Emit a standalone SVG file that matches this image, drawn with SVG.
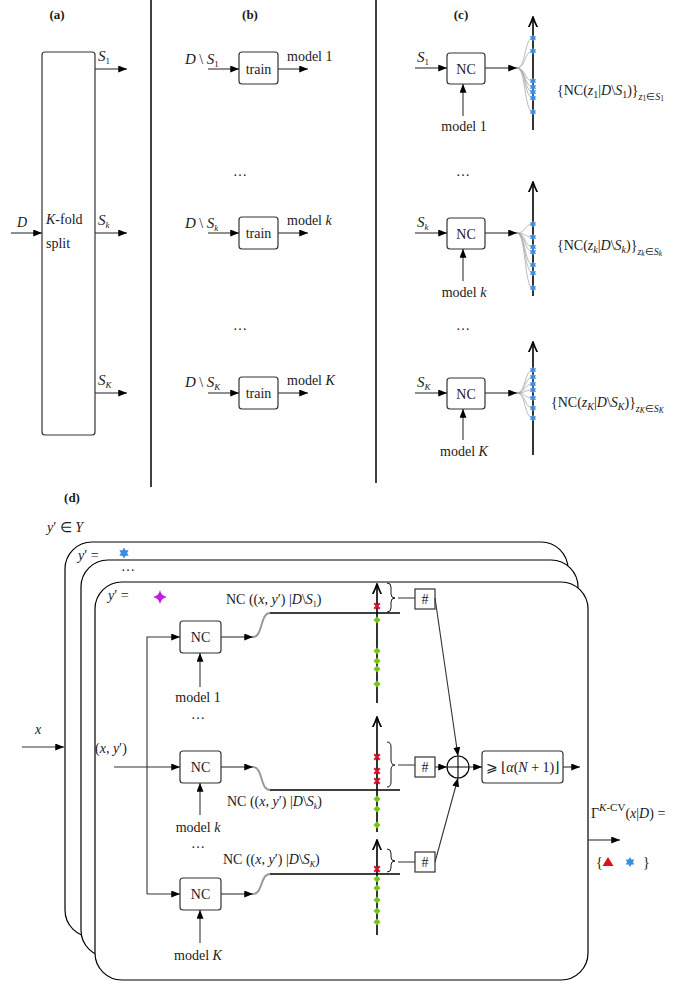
<svg xmlns="http://www.w3.org/2000/svg" width="691" height="985" viewBox="0 0 691 985">
<style>
text{font-family:"Liberation Serif","Times New Roman",serif;font-size:14px;fill:#1a1a1a}
.i{font-style:italic}
.b{font-weight:bold;font-size:13px}
.sub{font-size:9px}
.box{fill:#fff;stroke:#333;stroke-width:1.2}
.ln{fill:none;stroke:#333;stroke-width:1.1}
.ax{fill:none;stroke:#000;stroke-width:1.6}
.fan{fill:none;stroke:#aaa;stroke-width:0.8}
.sc{fill:none;stroke:#999;stroke-width:2}
.fr{fill:#fff;stroke:#000;stroke-width:1.2}
.dv{fill:none;stroke:#000;stroke-width:1.5}
.br{fill:none;stroke:#000;stroke-width:0.9}
</style>
<defs>
<marker id="a" markerUnits="userSpaceOnUse" viewBox="0 0 10 8" refX="10" refY="4" markerWidth="9" markerHeight="7" orient="auto"><path d="M0,0 L10,4 L0,8 Z" fill="#000"/></marker>
<marker id="o" markerUnits="userSpaceOnUse" viewBox="0 0 10 10" refX="9.5" refY="5" markerWidth="11" markerHeight="11" orient="auto"><path d="M0,1 Q5,3.5 9.5,5 Q5,6.5 0,9" fill="none" stroke="#000" stroke-width="1.5"/></marker>
<path id="bs" d="M0,-3.6 L3.1,1.8 L-3.1,1.8 Z M0,3.6 L-3.1,-1.8 L3.1,-1.8 Z" fill="#3b8de0"/>
<path id="rx" d="M-2.8,-2.8 L2.8,2.8 M-2.8,2.8 L2.8,-2.8" stroke="#e0102a" stroke-width="2"/>
<path id="gd" d="M0,-3.6 L3.6,0 L0,3.6 L-3.6,0 Z" fill="#78c41e"/>
<path id="mg" d="M0,-7 Q1.2,-1.2 7,0 Q1.2,1.2 0,7 Q-1.2,1.2 -7,0 Q-1.2,-1.2 0,-7 Z" fill="#c21ee0"/>
<path id="rt" d="M0,-5 L5.5,4 L-5.5,4 Z" fill="#e0101a"/>
</defs>

<g id="dividers">
<path class="dv" d="M151,0 V487"/>
<path class="dv" d="M376,0 V483"/>
</g>

<!-- Panel (a) -->
<g id="panel-a">
<text class="b" x="57" y="19" text-anchor="middle">(a)</text>
<g id="split">
<rect class="box" x="42" y="52" width="53" height="383" rx="3"/>
<text x="46" y="224"><tspan class="i">K</tspan>-fold</text>
<text x="46" y="248">split</text>
</g>
<text class="i" x="17" y="227" font-size="15">D</text>
<text x="98" y="61"><tspan class="i" font-size="15">S</tspan><tspan class="sub" dy="3">1</tspan></text>
<text x="98" y="225"><tspan class="i" font-size="15">S</tspan><tspan class="sub i" dy="3">k</tspan></text>
<text x="98" y="385"><tspan class="i" font-size="15">S</tspan><tspan class="sub i" dy="3">K</tspan></text>
</g>

<!-- Panel (b) -->
<g id="panel-b">
<text class="b" x="250" y="19" text-anchor="middle">(b)</text>
<g id="train1"><rect class="box" x="239" y="52" width="39" height="32" rx="3"/><text x="258.5" y="74" text-anchor="middle">train</text></g>
<g id="train2"><rect class="box" x="239" y="217" width="39" height="32" rx="3"/><text x="258.5" y="238" text-anchor="middle">train</text></g>
<g id="train3"><rect class="box" x="239" y="377" width="39" height="32" rx="3"/><text x="258.5" y="398" text-anchor="middle">train</text></g>
<text x="185" y="64"><tspan class="i" font-size="15">D</tspan> \ <tspan class="i" font-size="15">S</tspan><tspan class="sub" dy="3">1</tspan></text>
<text x="185" y="228"><tspan class="i" font-size="15">D</tspan> \ <tspan class="i" font-size="15">S</tspan><tspan class="sub i" dy="3">k</tspan></text>
<text x="185" y="387"><tspan class="i" font-size="15">D</tspan> \ <tspan class="i" font-size="15">S</tspan><tspan class="sub i" dy="3">K</tspan></text>
<text x="287" y="61">model 1</text>
<text x="287" y="225">model <tspan class="i">k</tspan></text>
<text x="287" y="385">model <tspan class="i">K</tspan></text>
<text x="240" y="176" text-anchor="middle">…</text>
<text x="240" y="330" text-anchor="middle">…</text>
</g>

<!-- Panel (c) -->
<g id="panel-c">
<text class="b" x="461" y="19" text-anchor="middle">(c)</text>
<g id="nc-c1"><rect class="box" x="447" y="53" width="38" height="31" rx="3"/><text x="466" y="74" text-anchor="middle" font-size="15">NC</text></g>
<g id="nc-c2"><rect class="box" x="447" y="218" width="38" height="31" rx="3"/><text x="466" y="239" text-anchor="middle" font-size="15">NC</text></g>
<g id="nc-c3"><rect class="box" x="447" y="378" width="38" height="31" rx="3"/><text x="466" y="399" text-anchor="middle" font-size="15">NC</text></g>
<text x="417" y="62"><tspan class="i" font-size="15">S</tspan><tspan class="sub" dy="3">1</tspan></text>
<text x="417" y="227"><tspan class="i" font-size="15">S</tspan><tspan class="sub i" dy="3">k</tspan></text>
<text x="417" y="387"><tspan class="i" font-size="15">S</tspan><tspan class="sub i" dy="3">K</tspan></text>
<text x="464" y="131" text-anchor="middle">model 1</text>
<text x="464" y="297" text-anchor="middle">model <tspan class="i">k</tspan></text>
<text x="464" y="456" text-anchor="middle">model <tspan class="i">K</tspan></text>
<text x="463" y="176" text-anchor="middle">…</text>
<text x="463" y="330" text-anchor="middle">…</text>
<text x="557" y="95" font-size="16.5">{NC(<tspan class="i">z</tspan><tspan font-size="10" dy="3">1</tspan><tspan dy="-3">|</tspan><tspan class="i">D</tspan>\<tspan class="i">S</tspan><tspan font-size="10" dy="3">1</tspan><tspan dy="-3">)}</tspan><tspan font-size="10" dy="5" class="i">z</tspan><tspan font-size="7.5" dy="1">1</tspan><tspan font-size="10" dy="-1">∈</tspan><tspan font-size="10" class="i">S</tspan><tspan font-size="7.5" dy="1">1</tspan></text>
<text x="557" y="250" font-size="16.5">{NC(<tspan class="i">z</tspan><tspan font-size="10" dy="3" class="i">k</tspan><tspan dy="-3">|</tspan><tspan class="i">D</tspan>\<tspan class="i">S</tspan><tspan font-size="10" dy="3" class="i">k</tspan><tspan dy="-3">)}</tspan><tspan font-size="10" dy="5" class="i">z</tspan><tspan font-size="7.5" dy="1" class="i">k</tspan><tspan font-size="10" dy="-1">∈</tspan><tspan font-size="10" class="i">S</tspan><tspan font-size="7.5" dy="1" class="i">k</tspan></text>
<text x="551" y="407" font-size="16.5">{NC(<tspan class="i">z</tspan><tspan font-size="10" dy="3" class="i">K</tspan><tspan dy="-3">|</tspan><tspan class="i">D</tspan>\<tspan class="i">S</tspan><tspan font-size="10" dy="3" class="i">K</tspan><tspan dy="-3">)}</tspan><tspan font-size="10" dy="5" class="i">z</tspan><tspan font-size="7.5" dy="1" class="i">K</tspan><tspan font-size="10" dy="-1">∈</tspan><tspan font-size="10" class="i">S</tspan><tspan font-size="7.5" dy="1" class="i">K</tspan></text>
</g>

<!-- Panel (d) -->
<g id="panel-d">
<text class="b" x="72" y="502" text-anchor="middle">(d)</text>
<text x="47" y="532" font-size="16"><tspan class="i">y</tspan>′ ∈ <tspan class="i">Y</tspan></text>
<g id="frame-back"><rect class="fr" x="65" y="542" width="503" height="395" rx="27"/>
<text x="78" y="560" font-size="15"><tspan class="i">y</tspan>′ =</text>
<use href="#bs" transform="translate(124,553) scale(1.5)"/></g>
<g id="frame-mid"><rect class="fr" x="81" y="560" width="497" height="397" rx="27"/>
<text x="128" y="571" text-anchor="middle" font-size="12">…</text></g>
<g id="frame-front"><rect class="fr" x="95" y="582" width="493" height="398" rx="27"/>
<text x="108" y="600" font-size="15"><tspan class="i">y</tspan>′ =</text>
<use href="#mg" x="160" y="597"/></g>

<g id="nc-d1"><rect class="box" x="180" y="621" width="41" height="32" rx="3"/><text x="200.5" y="642" text-anchor="middle" font-size="15">NC</text></g>
<g id="nc-d2"><rect class="box" x="180" y="751" width="41" height="32" rx="3"/><text x="200.5" y="772" text-anchor="middle" font-size="15">NC</text></g>
<g id="nc-d3"><rect class="box" x="180" y="878" width="41" height="32" rx="3"/><text x="200.5" y="899" text-anchor="middle" font-size="15">NC</text></g>
<text x="198" y="702" text-anchor="middle">model 1</text>
<text x="198" y="719" text-anchor="middle">…</text>
<text x="198" y="832" text-anchor="middle">model <tspan class="i">k</tspan></text>
<text x="198" y="848" text-anchor="middle">…</text>
<text x="198" y="960" text-anchor="middle">model <tspan class="i">K</tspan></text>
<text class="i" x="35" y="734" font-size="15">x</text>
<text x="95" y="753" font-size="15">(<tspan class="i">x</tspan>, <tspan class="i">y</tspan>′)</text>

<text x="226" y="604" font-size="13">NC ((<tspan class="i">x</tspan>, <tspan class="i">y</tspan>′) |<tspan class="i">D</tspan>\<tspan class="i">S</tspan><tspan font-size="8" dy="3">1</tspan><tspan dy="-3">)</tspan></text>
<text x="227" y="806" font-size="13">NC ((<tspan class="i">x</tspan>, <tspan class="i">y</tspan>′) |<tspan class="i">D</tspan>\<tspan class="i">S</tspan><tspan font-size="8" dy="3" class="i">k</tspan><tspan dy="-3">)</tspan></text>
<text x="223" y="864" font-size="13">NC ((<tspan class="i">x</tspan>, <tspan class="i">y</tspan>′) |<tspan class="i">D</tspan>\<tspan class="i">S</tspan><tspan font-size="8" dy="3" class="i">K</tspan><tspan dy="-3">)</tspan></text>

<g id="count1"><rect class="box" x="415" y="589" width="20" height="20"/><text x="425" y="604" text-anchor="middle" font-size="13">#</text></g>
<g id="count2"><rect class="box" x="415" y="757" width="20" height="20"/><text x="425" y="772" text-anchor="middle" font-size="13">#</text></g>
<g id="count3"><rect class="box" x="415" y="852" width="20" height="20"/><text x="425" y="867" text-anchor="middle" font-size="13">#</text></g>
<g id="sum"><circle cx="458" cy="767" r="11" fill="#fff" stroke="#000" stroke-width="1.2"/><path d="M447,767 H469 M458,756 V778" stroke="#000" stroke-width="1.1"/></g>
<g id="threshold"><rect class="box" x="482" y="751" width="81" height="32" rx="3"/><text x="522.5" y="772" text-anchor="middle" fill="#444">⩾ ⌊<tspan class="i">α</tspan>(<tspan class="i">N</tspan> + 1)⌋</text></g>

<text x="591" y="818" font-size="18.5">Γ<tspan font-size="11" dy="-7" class="i">K</tspan><tspan font-size="11">-CV</tspan><tspan dy="7">(</tspan><tspan class="i">x</tspan>|<tspan class="i">D</tspan>) =</text>
<text x="596" y="867" font-size="15">{</text>
<use href="#rt" x="608" y="862"/>
<use href="#bs" transform="translate(630,862) scale(1.4)"/>
<text x="643" y="867" font-size="15">}</text>
</g>

<g id="connectors">
<path class="ln" d="M11,233 H42" marker-end="url(#a)"/>
<path class="ln" d="M95,69 H127" marker-end="url(#a)"/>
<path class="ln" d="M95,233 H127" marker-end="url(#a)"/>
<path class="ln" d="M95,393 H127" marker-end="url(#a)"/>
<path class="ln" d="M208,69 H239" marker-end="url(#a)"/>
<path class="ln" d="M278,69 H308" marker-end="url(#a)"/>
<path class="ln" d="M208,233 H239" marker-end="url(#a)"/>
<path class="ln" d="M278,233 H308" marker-end="url(#a)"/>
<path class="ln" d="M208,393 H239" marker-end="url(#a)"/>
<path class="ln" d="M278,393 H308" marker-end="url(#a)"/>
<path class="ln" d="M415,68 H447" marker-end="url(#a)"/>
<path class="ln" d="M463,116 V84" marker-end="url(#a)"/>
<path class="ln" d="M485,68 H517" marker-end="url(#a)"/>
<path class="fan" d="M517,68 C526,68 524,38 533,38 M517,68 C526,68 524,51 533,51 M517,68 C526,68 524,81 533,81 M517,68 C526,68 524,87 533,87 M517,68 C526,68 524,92 533,92 M517,68 C526,68 524,98 533,98 M517,68 C526,68 524,112 533,112"/>
<path class="ax" d="M533,130 V17" marker-end="url(#o)"/>
<path class="ln" d="M415,233 H447" marker-end="url(#a)"/>
<path class="ln" d="M463,281 V249" marker-end="url(#a)"/>
<path class="ln" d="M485,233 H517" marker-end="url(#a)"/>
<path class="fan" d="M517,233 C526,233 524,224 533,224 M517,233 C526,233 524,237 533,237 M517,233 C526,233 524,247 533,247 M517,233 C526,233 524,252 533,252 M517,233 C526,233 524,265 533,265 M517,233 C526,233 524,273 533,273 M517,233 C526,233 524,288 533,288"/>
<path class="ax" d="M533,296 V182" marker-end="url(#o)"/>
<path class="ln" d="M415,393 H447" marker-end="url(#a)"/>
<path class="ln" d="M463,440 V409" marker-end="url(#a)"/>
<path class="ln" d="M485,393 H517" marker-end="url(#a)"/>
<path class="fan" d="M517,393 C526,393 524,370 533,370 M517,393 C526,393 524,377 533,377 M517,393 C526,393 524,384 533,384 M517,393 C526,393 524,390 533,390 M517,393 C526,393 524,398 533,398 M517,393 C526,393 524,408 533,408 M517,393 C526,393 524,418 533,418"/>
<path class="ax" d="M533,455 V342" marker-end="url(#o)"/>
<path class="ln" d="M22,747 H64" marker-end="url(#a)"/>
<path class="ln" d="M147,894 V637 H180" marker-end="url(#a)"/>
<path class="ln" d="M147,894 H180" marker-end="url(#a)"/>
<path class="ln" d="M114,767 H180" marker-end="url(#a)"/>
<path class="ln" d="M200,687 V653" marker-end="url(#a)"/>
<path class="ln" d="M200,815 V783" marker-end="url(#a)"/>
<path class="ln" d="M200,943 V910" marker-end="url(#a)"/>
<path class="ln" stroke="#777" d="M221,637 H253" marker-end="url(#a)"/>
<path class="ln" stroke="#777" d="M221,767 H253" marker-end="url(#a)"/>
<path class="ln" stroke="#777" d="M221,894 H253" marker-end="url(#a)"/>
<path class="sc" d="M253,637 C263,637 260,613 270,613"/>
<path class="sc" d="M253,767 C263,767 260,790 270,790"/>
<path class="sc" d="M253,894 C263,894 260,874 270,874"/>
<path class="ax" d="M270,613 H400 M270,790 H400 M270,874 H400"/>
<path class="ax" d="M377,703 V584" marker-end="url(#o)"/>
<path class="ax" d="M377,832 V717" marker-end="url(#o)"/>
<path class="ax" d="M377,935 V840" marker-end="url(#o)"/>
<path class="br" d="M387,583 Q391,583 391,587 L391,594 Q391,598 395,598 Q391,598 391,602 L391,608 Q391,612 387,612"/>
<path class="br" d="M387,742 Q391,742 391,747 L391,760 Q391,765 395,765 Q391,765 391,770 L391,782 Q391,787 387,787"/>
<path class="br" d="M387,849 Q391,849 391,853 L391,857 Q391,861 395,861 Q391,861 391,865 L391,868 Q391,872 387,872"/>
<path class="ln" d="M398,598 H415 M398,765 H415 M398,862 H415"/>
<path class="ln" d="M435,598 L458,756" marker-end="url(#a)"/>
<path class="ln" d="M435,767 H447" marker-end="url(#a)"/>
<path class="ln" d="M435,862 L458,778" marker-end="url(#a)"/>
<path class="ln" d="M469,767 H482" marker-end="url(#a)"/>
<path class="ln" d="M563,767 H580" marker-end="url(#a)"/>
<path class="ln" d="M588,840 H620" marker-end="url(#a)"/>
</g>

<g id="marks">
<use href="#bs" x="533" y="38"/><use href="#bs" x="533" y="51"/><use href="#bs" x="533" y="81"/><use href="#bs" x="533" y="87"/><use href="#bs" x="533" y="92"/><use href="#bs" x="533" y="98"/><use href="#bs" x="533" y="112"/>
<use href="#bs" x="533" y="224"/><use href="#bs" x="533" y="237"/><use href="#bs" x="533" y="247"/><use href="#bs" x="533" y="252"/><use href="#bs" x="533" y="265"/><use href="#bs" x="533" y="273"/><use href="#bs" x="533" y="288"/>
<use href="#bs" x="533" y="370"/><use href="#bs" x="533" y="377"/><use href="#bs" x="533" y="384"/><use href="#bs" x="533" y="390"/><use href="#bs" x="533" y="398"/><use href="#bs" x="533" y="408"/><use href="#bs" x="533" y="418"/>
<use href="#rx" x="377" y="606"/>
<use href="#gd" x="377" y="620"/><use href="#gd" x="377" y="651"/><use href="#gd" x="377" y="661"/><use href="#gd" x="377" y="669"/><use href="#gd" x="377" y="684"/>
<use href="#rx" x="377" y="757"/><use href="#rx" x="377" y="771"/><use href="#rx" x="377" y="781"/>
<use href="#gd" x="377" y="799"/><use href="#gd" x="377" y="809"/><use href="#gd" x="377" y="825"/>
<use href="#rx" x="377" y="869"/>
<use href="#gd" x="377" y="879"/><use href="#gd" x="377" y="888"/><use href="#gd" x="377" y="900"/><use href="#gd" x="377" y="911"/><use href="#gd" x="377" y="922"/>
</g>
</svg>
